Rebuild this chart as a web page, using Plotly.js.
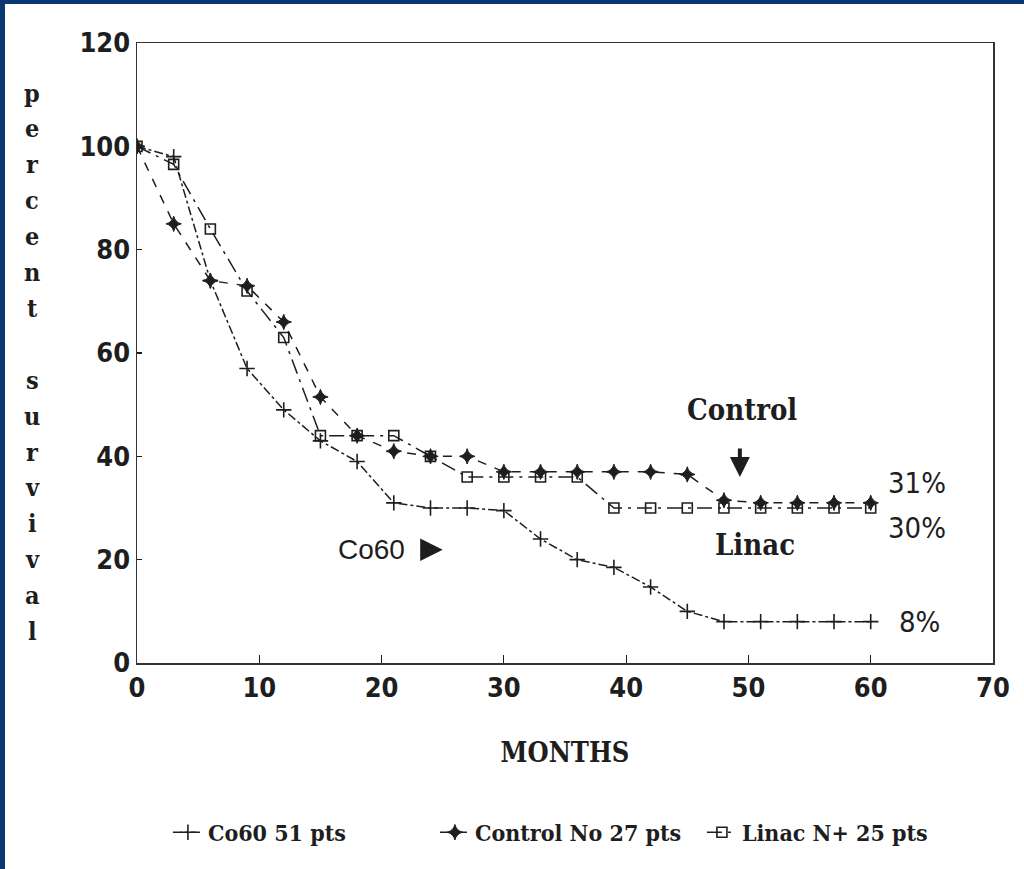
<!DOCTYPE html>
<html>
<head>
<meta charset="utf-8">
<script src="https://cdn.plot.ly/plotly-3.0.1.min.js"></script>
<style>
html,body{margin:0;padding:0;background:#fff;}
#wrap{position:relative;width:1024px;height:869px;overflow:hidden;}
#chart{position:absolute;left:0;top:0;width:1024px;height:869px;}
.bar{position:absolute;background:#0a3770;}
</style>
</head>
<body>
<div id="wrap">
<div id="chart"></div>
<div class="bar" style="left:0;top:0;width:1024px;height:4px;"></div>
<div class="bar" style="left:0;top:0;width:5px;height:869px;"></div>
</div>
<script>
// ---- data ----
const months = [0,3,6,9,12,15,18,21,24,27,30,33,36,39,42,45,48,51,54,57,60];
const co60    = [100,98,74,57,49,43,39,31,30,30,29.5,24,20,18.5,14.7,10,8,8,8,8,8];
const control = [100,85,74,73,66,51.5,44,41,40,40,37,37,37,37,37,36.5,31.5,31,31,31,31];
const linac   = [100,96.5,84,72,63,44,44,44,40,36,36,36,36,30,30,30,30,30,30,30,30];
const seriesNames = ["Co60 51 pts","Control No 27 pts","Linac N+ 25 pts"];
const xTicks = [0,10,20,30,40,50,60,70];
const yTicks = [0,20,40,60,80,100,120];
const yTitle = "percent survival";

const ink = "#1e1e1e";
const numFont = "'DejaVu Sans Condensed', 'Liberation Sans Narrow', sans-serif";
const slabFont = "'DejaVu Serif Condensed', 'DejaVu Serif', serif";

const traces = [
  {x: months, y: co60, name: seriesNames[0], mode: "lines+markers",
   line: {color: ink, width: 1.5, dash: "dashdot"},
   marker: {symbol: "cross-thin-open", size: 11, color: ink, line: {color: ink, width: 1.6}}},
  {x: months, y: control, name: seriesNames[1], mode: "lines+markers",
   line: {color: ink, width: 1.5, dash: "dash"},
   marker: {symbol: "star-diamond", size: 11, color: ink, line: {color: ink, width: 1}}},
  {x: months, y: linac, name: seriesNames[2], mode: "lines+markers",
   line: {color: ink, width: 1.5, dash: "longdashdot"},
   marker: {symbol: "square-open", size: 10, color: ink, line: {color: ink, width: 1.6}}}
];

const annotations = [
  {x: 49.5, y: 49, text: "Control", showarrow: false, font: {family: slabFont, size: 29, weight: "bold", color: ink}},
  {x: 49.3, y: 36, ax: 0, ay: -30, text: "", showarrow: true, arrowhead: 2, arrowsize: 1, arrowwidth: 4, arrowcolor: ink},
  {x: 50.5, y: 22.8, text: "Linac", showarrow: false, font: {family: slabFont, size: 29, weight: "bold", color: ink}},
  {x: 63.8, y: 34.8, text: "31%", showarrow: false, font: {family: numFont, size: 29, color: ink}},
  {x: 63.8, y: 26.1, text: "30%", showarrow: false, font: {family: numFont, size: 29, color: ink}},
  {x: 64.0, y: 7.9, text: "8%", showarrow: false, font: {family: numFont, size: 29, color: ink}},
  {x: 19.2, y: 21.9, text: "Co60", showarrow: false, font: {family: "'Liberation Sans', Arial, sans-serif", size: 28, color: ink}},
  {x: 25.0, y: 21.9, ax: -14, ay: 0, text: "", showarrow: true, arrowhead: 2, arrowsize: 0.9, arrowwidth: 5, arrowcolor: ink}
];

// stacked vertical y-axis title letters
const letters = yTitle.split("");
const yTop = 93, step = 35.9, plotTop = 43, plotH = 620;
letters.forEach((ch, i) => {
  if (ch === " ") return;
  const py = yTop + i * step;
  annotations.push({xref: "paper", yref: "paper", x: (32 - 137) / 856, y: 1 - (py - plotTop) / plotH,
    text: ch, showarrow: false, xanchor: "center", yanchor: "middle",
    font: {family: slabFont, size: 25, weight: "bold", color: ink}});
});

const layout = {
  width: 1024, height: 869,
  margin: {l: 137, r: 31, t: 43, b: 206, pad: 0, autoexpand: false},
  paper_bgcolor: "#fff", plot_bgcolor: "#fff",
  showlegend: true,
  legend: {orientation: "h", x: 0.504, xanchor: "center", y: -0.273, yanchor: "middle",
    font: {family: slabFont, size: 23, weight: "bold", color: ink}, itemwidth: 30, tracegroupgap: 0,
    entrywidth: 222, entrywidthmode: "pixels"},
  xaxis: {range: [0, 70], tickvals: xTicks, ticktext: xTicks.map(String), automargin: false,
    ticks: "inside", ticklen: 8, tickwidth: 1.2, tickcolor: ink,
    showline: true, linecolor: "#333", linewidth: 1.5, mirror: true,
    showgrid: false, zeroline: false,
    tickfont: {family: numFont, size: 27, weight: "bold", color: ink},
    title: {text: "MONTHS", font: {family: slabFont, size: 27, weight: "bold", color: ink}, standoff: 41}},
  yaxis: {range: [0, 120], tickvals: yTicks, ticktext: yTicks.map(String), automargin: false,
    ticks: "inside", ticklen: 5, tickwidth: 1.2, tickcolor: ink,
    showline: true, linecolor: "#333", linewidth: 1.5, mirror: true,
    showgrid: false, zeroline: false,
    tickfont: {family: numFont, size: 27, weight: "bold", color: ink}},
  annotations: annotations
};

Plotly.newPlot("chart", traces, layout, {displayModeBar: false, staticPlot: true});
</script>
</body>
</html>
